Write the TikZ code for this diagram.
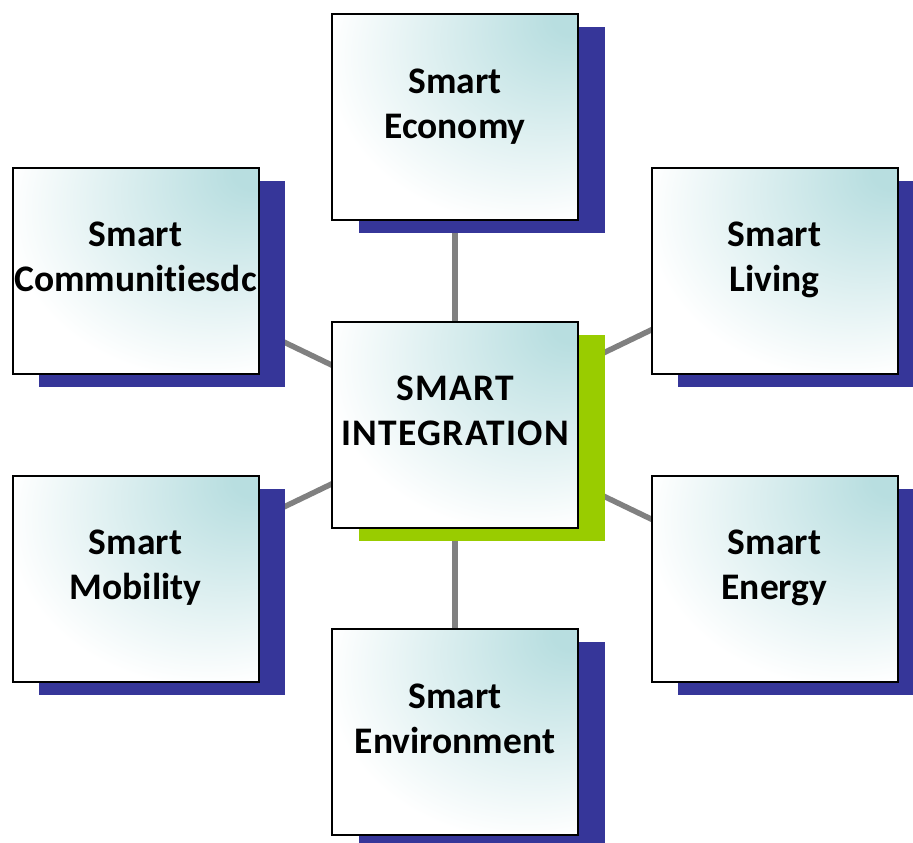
\documentclass[tikz,border=0pt]{standalone}
\usepackage{fontspec}
\setmainfont[Ligatures=NoCommon]{Carlito}
\usetikzlibrary{shadows,backgrounds}
\definecolor{shblue}{HTML}{363699}
\definecolor{shgreen}{HTML}{99CC00}
\definecolor{tealc}{HTML}{B8DEE0}
\definecolor{conngray}{HTML}{808080}
\pgfdeclareradialshading{cornerteal}{\pgfpoint{25bp}{25bp}}{color(0bp)=(tealc); color(4bp)=(tealc); color(40bp)=(white); color(90bp)=(white)}
\newcommand{\twolines}[2]{\rule{0pt}{31.5pt}#1\\#2\rule[-34.5pt]{0pt}{34.5pt}}
\newcommand{\spaced}[1]{{\addfontfeature{LetterSpace=3.5}#1}}
\tikzset{
  boxbase/.style={draw=black, line width=2pt, minimum width=246pt, minimum height=206pt,
    inner sep=0pt, shading=cornerteal, align=center,
    font=\fontsize{37.5}{45}\selectfont\bfseries},
  bluebox/.style={boxbase, general shadow={fill=shblue, shadow xshift=26.5pt, shadow yshift=-13pt}},
  greenbox/.style={boxbase, general shadow={fill=shgreen, shadow xshift=26.5pt, shadow yshift=-13pt}},
  conn/.style={draw=conngray, line width=5.5pt}
}
\begin{document}
\begin{tikzpicture}[x=1pt,y=-1pt]
\useasboundingbox (0,0) rectangle (913,843);
\node[bluebox] (econ) at (455,117) {\twolines{Smart}{Economy}};
\node[bluebox] (comm) at (135.5,270.5) {\twolines{Smart}{Communitiesdc}};
\node[bluebox] (living) at (774.5,270.5) {\twolines{Smart}{Living}};
\node[bluebox] (mob) at (135.5,578.5) {\twolines{Smart}{Mobility}};
\node[bluebox] (energy) at (774.5,578.5) {\twolines{Smart}{Energy}};
\node[bluebox] (env) at (455,732) {\twolines{Smart}{Environment}};
\node[greenbox] (integ) at (455,424.5) {\twolines{\spaced{SMART}}{\spaced{INTEGRATION}}};
\begin{scope}[on background layer]
  \draw[conn] (integ.center) -- (econ.center);
  \draw[conn] (integ.center) -- (comm.center);
  \draw[conn] (integ.center) -- (living.center);
  \draw[conn] (integ.center) -- (mob.center);
  \draw[conn] (integ.center) -- (energy.center);
  \draw[conn] (integ.center) -- (env.center);
\end{scope}
\end{tikzpicture}
\end{document}
